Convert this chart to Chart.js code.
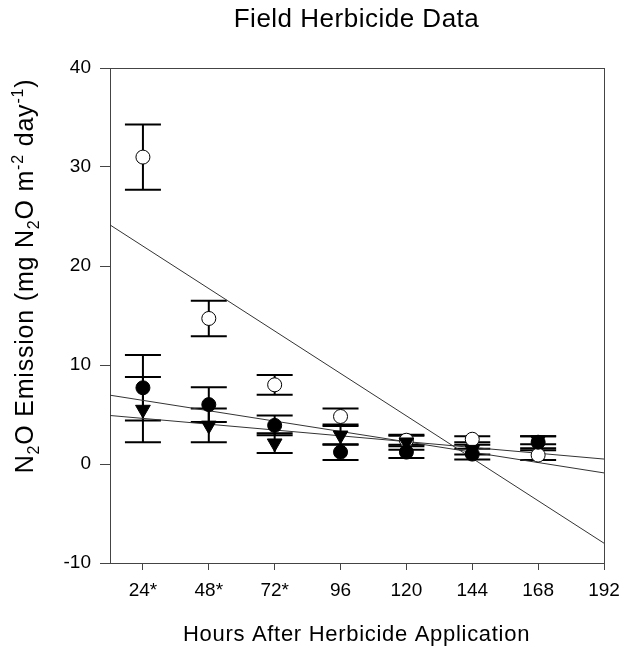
<!DOCTYPE html>
<html>
<head>
<meta charset="utf-8">
<title>Field Herbicide Data</title>
<script src="https://cdn.jsdelivr.net/npm/chart.js@4"></script>
<style>
  html, body { margin: 0; padding: 0; background: #fff; }
  #wrap { width: 621px; height: 656px; }
</style>
</head>
<body>
<div id="wrap"><canvas id="herbChart" width="621" height="656"></canvas></div>
<script>
// 시간 (x) 및 눈금
const hours = [24, 48, 72, 96, 120, 144, 168];
const xTicks = [24, 48, 72, 96, 120, 144, 168, 192];
const xTickLabels = ['24*', '48*', '72*', '96', '120', '144', '168', '192'];
const yTicks = [-10, 0, 10, 20, 30, 40];

// 처리구별 평균 / 표준오차
const openMean = [31.0, 14.7, 8.0, 4.8, 2.4, 2.5, 0.9];
const openErr = [3.3, 1.8, 1.0, 0.8, 0.45, 0.3, 0.5];
const filledMean = [7.7, 6.0, 3.9, 1.2, 1.2, 1.0, 2.2];
const filledErr = [3.3, 1.75, 1.0, 0.8, 0.6, 0.55, 0.6];
const triMean = [5.5, 3.9, 2.1, 2.9, 2.2, 1.45, 2.4];
const triErr = [3.3, 1.7, 1.0, 0.95, 0.75, 0.5, 0.4];

// 회귀선 양 끝점
const fitX = [12, 192];
const fitOpenY = [24.15, -8.0];
const fitFilledY = [6.95, -0.9];
const fitTriY = [4.9, 0.5];

const FONT = "'Liberation Sans', Arial, sans-serif";

function pts(ys, xs) {
    return ys.map((y, i) => ({ x: (xs || hours)[i], y: y }));
}

// 오차막대 (마커 아래에 그림)
const errorBars = {
    id: 'errorBars',
    beforeDatasetsDraw(chart) {
        const ctx = chart.ctx;
        const xs = chart.scales.x, ys = chart.scales.y;
        const sets = [[openMean, openErr], [filledMean, filledErr], [triMean, triErr]];
        ctx.save();
        ctx.strokeStyle = '#000';
        ctx.lineWidth = 2;
        sets.forEach(([m, e]) => {
            m.forEach((v, i) => {
                const px = xs.getPixelForValue(hours[i]);
                const top = ys.getPixelForValue(v + e[i]);
                const bot = ys.getPixelForValue(v - e[i]);
                ctx.beginPath();
                ctx.moveTo(px, top); ctx.lineTo(px, bot);
                ctx.moveTo(px - 18, top); ctx.lineTo(px + 18, top);
                ctx.moveTo(px - 18, bot); ctx.lineTo(px + 18, bot);
                ctx.stroke();
            });
        });
        ctx.restore();
    }
};

// 윗첨자/아래첨자 포함 텍스트
function richWidth(ctx, segs, size) {
    let w = 0;
    segs.forEach(s => {
        ctx.font = (s.sub || s.sup ? Math.round(size * 0.64) : size) + 'px ' + FONT;
        w += ctx.measureText(s.t).width;
    });
    return w;
}
function drawRich(ctx, segs, size, x, y) {
    let cx = x;
    segs.forEach(s => {
        const fs = s.sub || s.sup ? Math.round(size * 0.64) : size;
        ctx.font = fs + 'px ' + FONT;
        const dy = s.sub ? size * 0.22 : (s.sup ? -size * 0.42 : 0);
        ctx.fillText(s.t, cx, y + dy);
        cx += ctx.measureText(s.t).width;
    });
}

const yTitle = [
    { t: 'N' }, { t: '2', sub: true }, { t: 'O Emission (mg N' }, { t: '2', sub: true },
    { t: 'O m' }, { t: '-2', sup: true }, { t: ' day' }, { t: '-1', sup: true }, { t: ')' }
];

const frameAndTitles = {
    id: 'frameAndTitles',
    afterDraw(chart) {
        const ctx = chart.ctx;
        const a = chart.chartArea;
        ctx.save();
        // 위/오른쪽 테두리
        ctx.strokeStyle = '#444';
        ctx.lineWidth = 1;
        ctx.beginPath();
        ctx.moveTo(a.left, Math.round(a.top) + 0.5);
        ctx.lineTo(a.right, Math.round(a.top) + 0.5);
        ctx.moveTo(Math.round(a.right) + 0.5, a.top);
        ctx.lineTo(Math.round(a.right) + 0.5, a.bottom);
        ctx.stroke();

        ctx.fillStyle = '#000';
        ctx.textBaseline = 'alphabetic';
        ctx.textAlign = 'center';
        ctx.letterSpacing = '0.5px';
        ctx.font = '26px ' + FONT;
        ctx.fillText('Field Herbicide Data', 356.5, 27);
        ctx.letterSpacing = '0.7px';
        ctx.font = '22px ' + FONT;
        ctx.fillText('Hours After Herbicide Application', 356.5, 641);

        // 세로축 제목
        ctx.textAlign = 'left';
        ctx.letterSpacing = '0.8px';
        const w = richWidth(ctx, yTitle, 25);
        ctx.translate(33, 276);
        ctx.rotate(-Math.PI / 2);
        drawRich(ctx, yTitle, 25, -w / 2, 0);
        ctx.restore();
    }
};

new Chart(document.getElementById('herbChart'), {
    type: 'scatter',
    data: {
        datasets: [
            { label: 'tri', data: pts(triMean), pointStyle: 'triangle', rotation: 180, pointRadius: 8.5,
              backgroundColor: '#000', borderColor: '#000', borderWidth: 1 },
            { label: 'filled', data: pts(filledMean), pointStyle: 'circle', pointRadius: 7,
              backgroundColor: '#000', borderColor: '#000', borderWidth: 1 },
            { label: 'open', data: pts(openMean), pointStyle: 'circle', pointRadius: 7,
              backgroundColor: '#fff', borderColor: '#000', borderWidth: 1 },
            { label: 'fitOpen', data: pts(fitOpenY, fitX), showLine: true, pointRadius: 0,
              borderColor: '#333', borderWidth: 1 },
            { label: 'fitFilled', data: pts(fitFilledY, fitX), showLine: true, pointRadius: 0,
              borderColor: '#333', borderWidth: 1 },
            { label: 'fitTri', data: pts(fitTriY, fitX), showLine: true, pointRadius: 0,
              borderColor: '#333', borderWidth: 1 }
        ]
    },
    options: {
        responsive: false,
        animation: false,
        devicePixelRatio: 1,
        layout: { padding: { top: 68, right: 17, left: 0, bottom: 0 } },
        plugins: { legend: { display: false }, tooltip: { enabled: false }, title: { display: false } },
        scales: {
            x: {
                type: 'linear', min: 12, max: 192,
                afterFit(s) { s.height = 93; s.paddingLeft = 0; s.paddingRight = 0; },
                afterBuildTicks(s) { s.ticks = xTicks.map(v => ({ value: v })); },
                grid: { drawOnChartArea: false, tickLength: 7, color: '#444' },
                border: { color: '#444', width: 1 },
                ticks: {
                    color: '#000', padding: 9, maxRotation: 0, autoSkip: false,
                    font: { family: FONT, size: 19 },
                    callback: (v) => xTickLabels[xTicks.indexOf(v)]
                }
            },
            y: {
                type: 'linear', min: -10, max: 40,
                afterFit(s) { s.width = 110; s.paddingTop = 0; s.paddingBottom = 0; },
                afterBuildTicks(s) { s.ticks = yTicks.map(v => ({ value: v })); },
                grid: { drawOnChartArea: false, tickLength: 10, color: '#444' },
                border: { color: '#444', width: 1 },
                ticks: { color: '#000', padding: 9, font: { family: FONT, size: 19 } }
            }
        }
    },
    plugins: [errorBars, frameAndTitles]
});
</script>
</body>
</html>
